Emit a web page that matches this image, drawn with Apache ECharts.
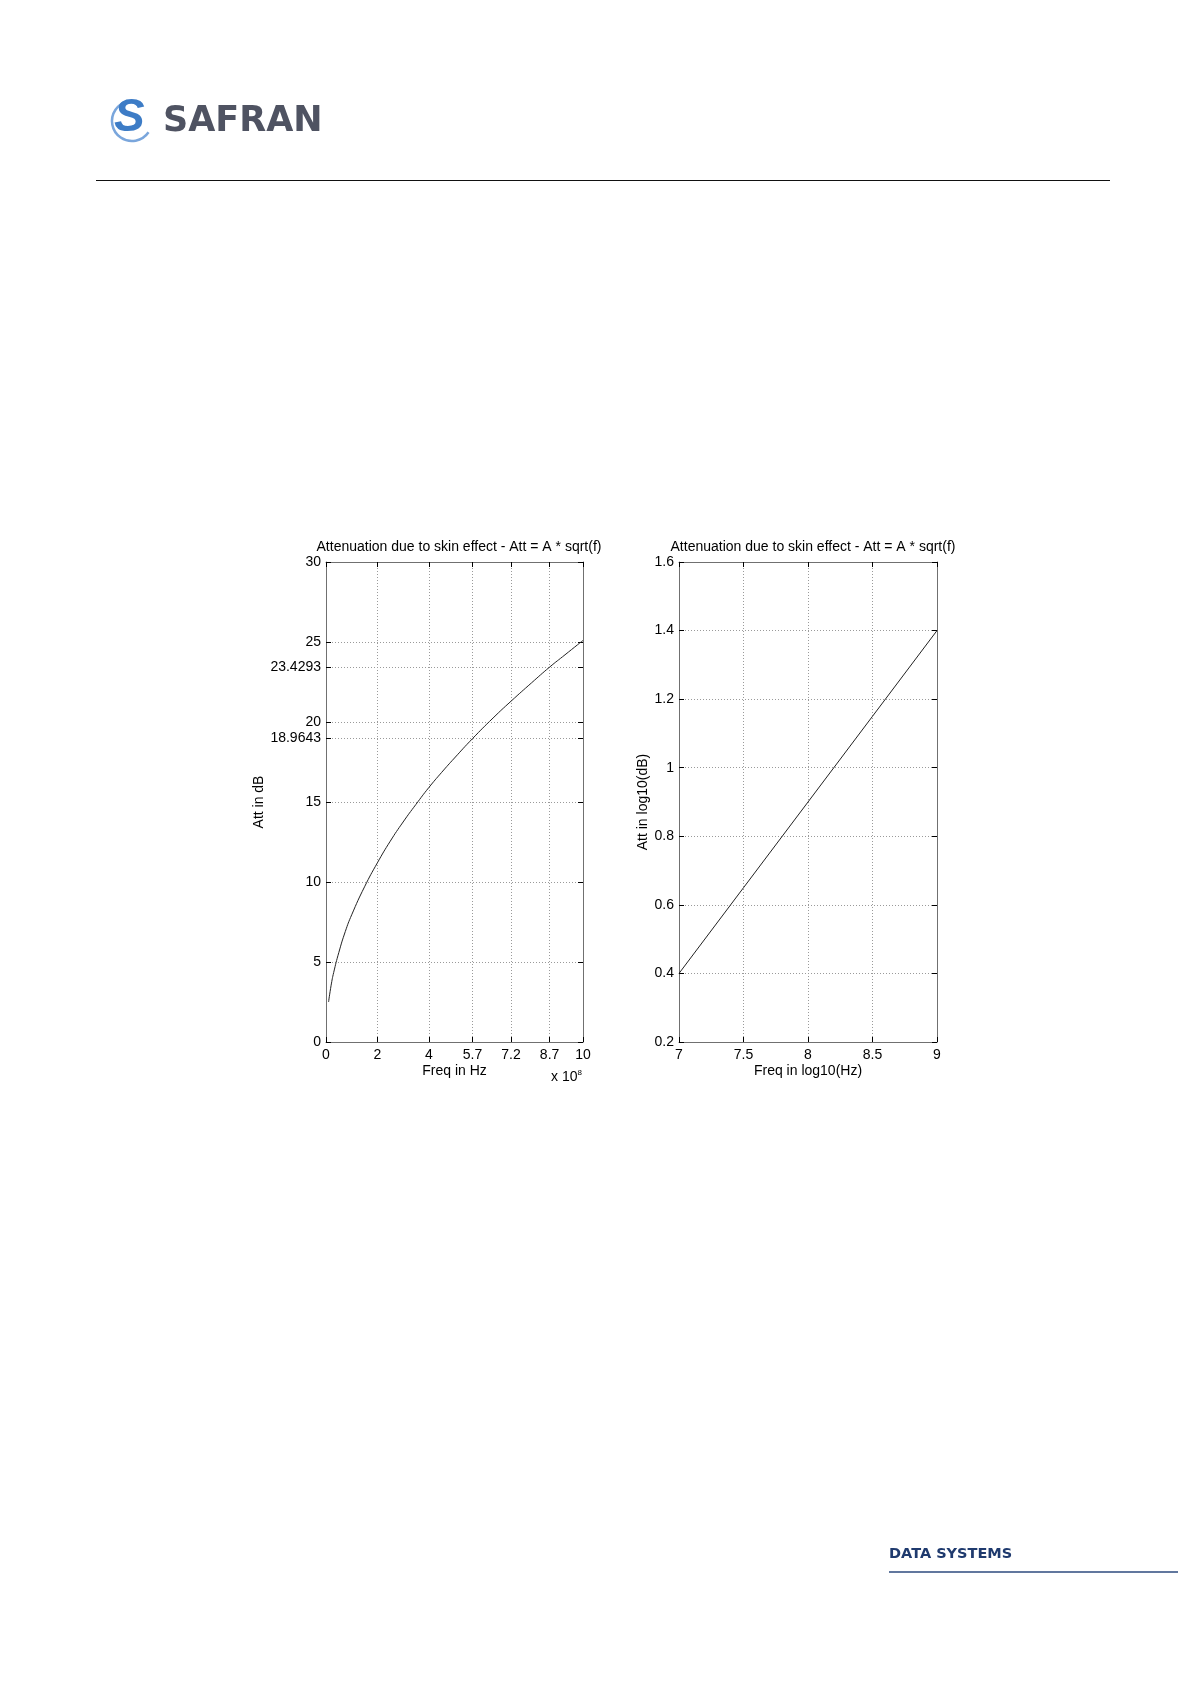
<!DOCTYPE html>
<html>
<head>
<meta charset="utf-8">
<script src="https://cdn.jsdelivr.net/npm/echarts@6/dist/echarts.min.js"></script>
<style>
  html, body { margin: 0; padding: 0; background: #fff; }
  #chart { width: 1191px; height: 1684px; }
</style>
</head>
<body>
<div id="chart"></div>
<script>
// left plot: frequency (x 10^8 Hz) vs attenuation (dB)
const freqHz = [0.1, 0.2, 0.3, 0.5, 0.75, 1, 1.5, 2, 2.5, 3, 3.5, 4, 4.5, 5, 5.7, 6.5, 7.2, 8, 8.7, 9.3, 10];
const attDb = [2.5, 3.55, 4.35, 5.6, 6.9, 7.95, 9.7, 11.2, 12.55, 13.75, 14.85, 15.9, 16.85, 17.75, 18.96, 20.25, 21.3, 22.45, 23.43, 24.2, 25.1];
const linXTicks = [0, 2, 4, 5.7, 7.2, 8.7, 10];
const linYTicks = [0, 5, 10, 15, 18.9643, 20, 23.4293, 25, 30];

// right plot: log10(freq) vs log10(att)
const logFreq = [7, 7.5, 8, 8.5, 9];
const logAtt = [0.4, 0.65, 0.9, 1.15, 1.4];

const FONT = '"Liberation Sans", Arial, sans-serif';
const FS = 14;
const titleText = 'Attenuation due to skin effect - Att = A * sqrt(f)';

const chart = echarts.init(document.getElementById('chart'));

// MATLAB style: ticks inside, dotted grid, ticks mirrored on top/right
function tick(custom) {
  const t = { show: true, inside: true, length: 5, lineStyle: { color: '#000', width: 1 } };
  if (custom) t.customValues = custom;
  return t;
}
const axisLine = { show: true, onZero: false, lineStyle: { color: '#707070', width: 1 } };
const grid = { show: true, lineStyle: { color: '#9a9a9a', type: [1, 2], width: 1 } };
const nameStyle = { color: '#000', fontFamily: FONT, fontSize: FS };
function label(extra) {
  return Object.assign({ color: '#000', fontFamily: FONT, fontSize: FS }, extra);
}

const option = {
  animation: false,
  backgroundColor: '#fff',
  title: [
    { text: titleText, left: 454, top: 535, textAlign: 'center',
      textStyle: { fontFamily: FONT, fontSize: FS, fontWeight: 'normal', color: '#000' } },
    { text: titleText, left: 808, top: 535, textAlign: 'center',
      textStyle: { fontFamily: FONT, fontSize: FS, fontWeight: 'normal', color: '#000' } }
  ],
  grid: [
    { left: 326, top: 562, width: 257, height: 480 },
    { left: 679, top: 562, width: 258, height: 480 }
  ],
  xAxis: [
    { type: 'value', gridIndex: 0, position: 'bottom', min: 0, max: 10,
      name: 'Freq in Hz', nameLocation: 'middle', nameGap: 22, nameTextStyle: nameStyle,
      axisLine, axisTick: tick(linXTicks), splitLine: grid,
      axisLabel: label({ customValues: linXTicks, margin: 6 }) },
    { type: 'value', gridIndex: 0, position: 'top', min: 0, max: 10,
      axisLine, axisTick: tick(linXTicks), splitLine: { show: false }, axisLabel: { show: false } },
    { type: 'value', gridIndex: 1, position: 'bottom', min: 7, max: 9, interval: 0.5,
      name: 'Freq in log10(Hz)', nameLocation: 'middle', nameGap: 22, nameTextStyle: nameStyle,
      axisLine, axisTick: tick(), splitLine: grid, axisLabel: label({ margin: 6 }) },
    { type: 'value', gridIndex: 1, position: 'top', min: 7, max: 9, interval: 0.5,
      axisLine, axisTick: tick(), splitLine: { show: false }, axisLabel: { show: false } }
  ],
  yAxis: [
    { type: 'value', gridIndex: 0, position: 'left', min: 0, max: 30,
      name: 'Att in dB', nameLocation: 'middle', nameGap: 59, nameRotate: 90, nameTextStyle: nameStyle,
      axisLine, axisTick: tick(linYTicks), splitLine: grid,
      axisLabel: label({ customValues: linYTicks, margin: 5 }) },
    { type: 'value', gridIndex: 0, position: 'right', min: 0, max: 30,
      axisLine, axisTick: tick(linYTicks), splitLine: { show: false }, axisLabel: { show: false } },
    { type: 'value', gridIndex: 1, position: 'left', min: 0.2, max: 1.6, interval: 0.2,
      name: 'Att in log10(dB)', nameLocation: 'middle', nameGap: 27, nameRotate: 90, nameTextStyle: nameStyle,
      axisLine, axisTick: tick(), splitLine: grid,
      axisLabel: label({ margin: 5, formatter: v => String(Math.round(v * 10) / 10) }) },
    { type: 'value', gridIndex: 1, position: 'right', min: 0.2, max: 1.6, interval: 0.2,
      axisLine, axisTick: tick(), splitLine: { show: false }, axisLabel: { show: false } }
  ],
  series: [
    {
      type: 'line', xAxisIndex: 0, yAxisIndex: 0, smooth: true, symbol: 'none',
      lineStyle: { color: '#222', width: 1 },
      data: freqHz.map((f, i) => [f, attDb[i]])
    },
    {
      type: 'line', xAxisIndex: 2, yAxisIndex: 2, symbol: 'none',
      lineStyle: { color: '#222', width: 1 },
      data: logFreq.map((f, i) => [f, logAtt[i]])
    }
  ],
  graphic: [
    // x 10^8 exponent note
    { type: 'text', left: 551, top: 1069, style: {
        text: 'x 10{sup|8}', fill: '#000', font: FS + 'px ' + FONT,
        rich: { sup: { fontSize: 8, verticalAlign: 'top', padding: [0, 0, 8, 0], fontFamily: FONT } } } },
    // header logo
    { type: 'arc', shape: { cx: 132, cy: 121, r: 20, startAngle: 0.6, endAngle: 5.0 },
      style: { stroke: '#7aa6dc', lineWidth: 2.5, fill: null } },
    { type: 'text', left: 114, top: 95, style: {
        text: 'S', font: 'bold italic 46px ' + FONT, fill: '#3d7cc6' } },
    { type: 'text', left: 163, top: 104, style: {
        text: 'SAFRAN', font: 'bold 35px "DejaVu Sans", sans-serif', fill: '#4f5362' } },
    { type: 'line', shape: { x1: 96, y1: 180.5, x2: 1110, y2: 180.5 },
      style: { stroke: '#111', lineWidth: 1.2 } },
    // footer
    { type: 'text', left: 889, top: 1547, style: {
        text: 'DATA SYSTEMS', font: 'bold 14.5px "DejaVu Sans", sans-serif', fill: '#1f3a6e' } },
    { type: 'line', shape: { x1: 889, y1: 1572, x2: 1178, y2: 1572 },
      style: { stroke: '#2c4a7e', lineWidth: 1.5 } }
  ]
};

chart.setOption(option);
</script>
</body>
</html>
